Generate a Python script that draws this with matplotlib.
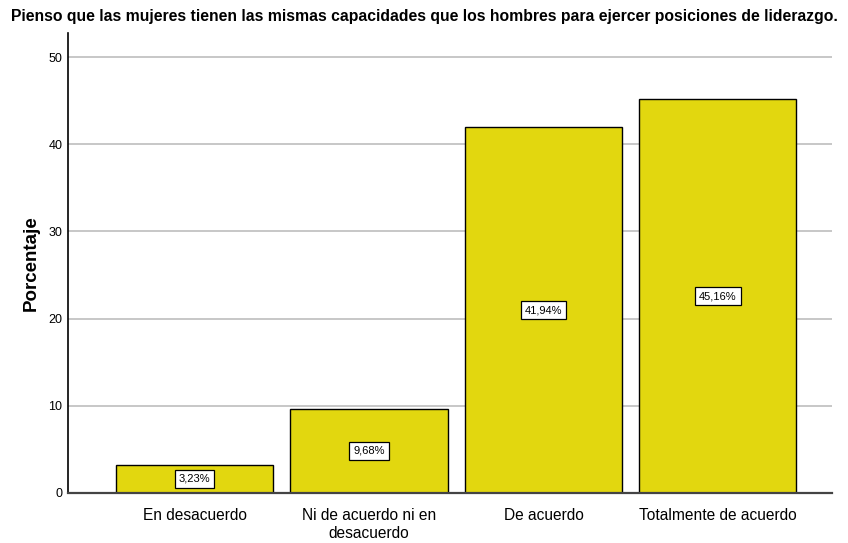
import numpy as np
import matplotlib.pyplot as plt

plt.rcParams['font.family'] = ['Liberation Sans', 'DejaVu Sans']

# datos de la pregunta
categorias = ['En desacuerdo', 'Ni de acuerdo ni en\ndesacuerdo', 'De acuerdo', 'Totalmente de acuerdo']
porcentajes = [3.23, 9.68, 41.94, 45.16]
etiquetas = ['3,23%', '9,68%', '41,94%', '45,16%']
titulo = 'Pienso que las mujeres tienen las mismas capacidades que los hombres para ejercer posiciones de liderazgo.'

fig = plt.figure(figsize=(8.48, 5.43), dpi=100)
ax = fig.add_axes([0.0802, 0.0921, 0.9008, 0.8469])

x = np.arange(len(categorias))
ax.bar(x, porcentajes, width=0.9, color='#E2D70F', edgecolor='black', linewidth=1, zorder=3)

#etiquetas con caja blanca en el centro de cada barra
for xi, v, t in zip(x, porcentajes, etiquetas):
    ax.text(xi, v / 2, t, ha='center', va='center', fontsize=8, zorder=4,
            bbox=dict(boxstyle='square,pad=0.35', facecolor='white', edgecolor='black', linewidth=0.9))

ax.set_xlim(-0.725, 3.653)
ax.set_ylim(0, 52.75)
ax.set_yticks([0, 10, 20, 30, 40, 50])
ax.set_xticks(x)
ax.set_xticklabels(categorias, fontsize=11.2, linespacing=1.2)
ax.tick_params(axis='y', length=0, labelsize=9, pad=4)
ax.tick_params(axis='x', length=0, pad=11)
ax.yaxis.grid(True, color='#BEBEBE', linewidth=1.2, zorder=0)

for s in ['top', 'right']:
    ax.spines[s].set_visible(False)
ax.spines['left'].set_color('black')
ax.spines['left'].set_linewidth(1.2)
ax.spines['bottom'].set_color('#444444')
ax.spines['bottom'].set_linewidth(1.6)
ax.spines['bottom'].set_zorder(5)

ax.set_ylabel('Porcentaje', fontsize=13.5, fontweight='bold', labelpad=6)
fig.text(0.5, 1 - 17 / 543, titulo, ha='center', va='center', fontsize=11.3, fontweight='bold')

plt.savefig('out.png', dpi=100)
plt.close()
